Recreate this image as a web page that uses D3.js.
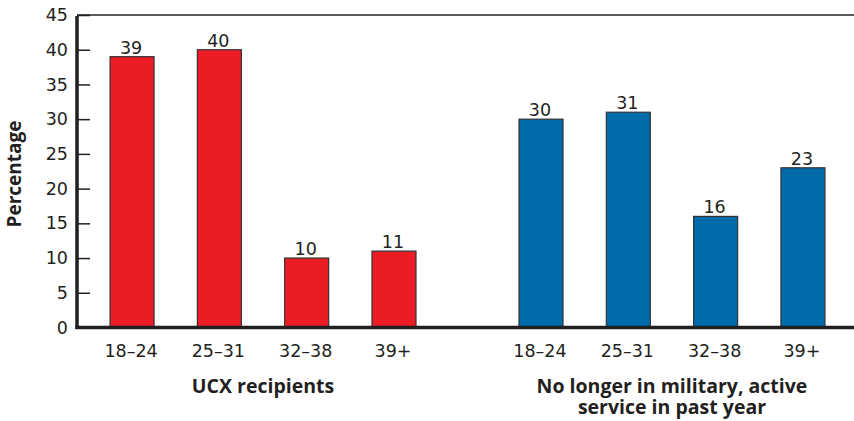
<!DOCTYPE html>
<html>
<head>
<meta charset="utf-8">
<script src="https://cdn.jsdelivr.net/npm/d3@7"></script>
<style>
  html, body { margin: 0; padding: 0; background: #fff; }
  svg { display: block; }
  text { fill: #231f20; }
</style>
</head>
<body>
<svg id="chart" width="854" height="421"></svg>
<script>
// Age bands shown under each group
const ageBands = ["18–24", "25–31", "32–38", "39+"];
// Group titles (second one wraps onto two lines)
const groups = ["ucx", "military"];
const groupTitles = [["UCX recipients"], ["No longer in military, active", "service in past year"]];
// Percentages per age band
const ucxValues = [39, 40, 10, 11];
const militaryValues = [30, 31, 16, 23];
const groupColors = ["#ec1c24", "#006ba9"];
// Y axis ticks
const yTicks = [0, 5, 10, 15, 20, 25, 30, 35, 40, 45];

const seriesValues = [ucxValues, militaryValues];

const svg = d3.select("#chart");
const plot = { left: 77, right: 854, top: 15, bottom: 327.5 };

const y = d3.scaleLinear().domain([0, 45]).range([plot.bottom, plot.top]);

// Outer scale positions the two groups, inner scale the age bands within a group
const x0 = d3.scaleBand().domain(groups).range([88.4, 846.6]).paddingInner(0.146).paddingOuter(0);
const x1 = d3.scaleBand().domain(ageBands).range([0, x0.bandwidth()]).paddingInner(0.496).paddingOuter(0.248);

// Top border line
svg.append("line")
  .attr("x1", plot.left).attr("x2", plot.right)
  .attr("y1", plot.top).attr("y2", plot.top)
  .attr("stroke", "#5a5a5a").attr("stroke-width", 2);

// Bars
groups.forEach((g, gi) => {
  const gx = x0(g);
  const data = ageBands.map((a, i) => ({ a, v: seriesValues[gi][i] }));
  const grp = svg.append("g").attr("transform", `translate(${gx},0)`);
  grp.selectAll("rect").data(data).join("rect")
    .attr("x", d => x1(d.a))
    .attr("y", d => y(d.v))
    .attr("width", x1.bandwidth())
    .attr("height", d => y(0) - y(d.v))
    .attr("fill", groupColors[gi])
    .attr("stroke", "#333")
    .attr("stroke-width", 1.2);
  grp.selectAll("text.val").data(data).join("text")
    .attr("class", "val")
    .attr("x", d => x1(d.a) + x1.bandwidth() / 2 - 1)
    .attr("y", d => y(d.v) - 3)
    .attr("text-anchor", "middle")
    .attr("font-family", "DejaVu Sans, Verdana, sans-serif")
    .attr("font-size", 17.5)
    .text(d => d.v);
  // Age band labels
  grp.selectAll("text.cat").data(ageBands).join("text")
    .attr("class", "cat")
    .attr("x", d => x1(d) + x1.bandwidth() / 2 - 1)
    .attr("y", 357)
    .attr("text-anchor", "middle")
    .attr("font-family", "DejaVu Sans, Verdana, sans-serif")
    .attr("font-size", 17.5)
    .text(d => d);
  // Group title, one text element per line
  groupTitles[gi].forEach((line, li) => {
    svg.append("text")
      .attr("x", gx + x0.bandwidth() / 2)
      .attr("y", 393 + li * 21)
      .attr("text-anchor", "middle")
      .attr("font-family", "Open Sans, sans-serif")
      .attr("font-weight", "bold")
      .attr("font-size", 19.5)
      .text(line);
  });
});

// Y axis with inward ticks
const yAxis = d3.axisRight(y).tickValues(yTicks).tickSize(13).tickFormat(d3.format("d"));
const ya = svg.append("g").attr("transform", `translate(${plot.left},0)`).call(yAxis);
ya.select(".domain").remove();
ya.selectAll(".tick line").attr("stroke", "#231f20").attr("stroke-width", 1.5);
ya.selectAll(".tick text")
  .attr("x", -9).attr("text-anchor", "end")
  .attr("font-family", "DejaVu Sans, Verdana, sans-serif")
  .attr("font-size", 17.5)
  .attr("fill", "#231f20");

// Axis lines
svg.append("line")
  .attr("x1", plot.left).attr("x2", plot.left)
  .attr("y1", plot.top + 1).attr("y2", plot.bottom + 1.5)
  .attr("stroke", "#231f20").attr("stroke-width", 3.5);
svg.append("line")
  .attr("x1", plot.left - 1.5).attr("x2", plot.right)
  .attr("y1", plot.bottom).attr("y2", plot.bottom)
  .attr("stroke", "#231f20").attr("stroke-width", 3.5);

// Y axis title
svg.append("text")
  .attr("transform", "translate(21,174) rotate(-90)")
  .attr("text-anchor", "middle")
  .attr("font-family", "Open Sans, sans-serif")
  .attr("font-weight", "bold")
  .attr("font-size", 19)
  .text("Percentage");
</script>
</body>
</html>
